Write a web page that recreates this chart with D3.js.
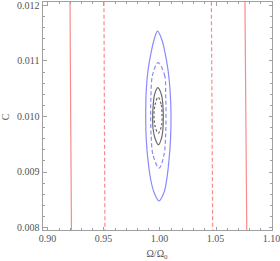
<!DOCTYPE html>
<html><head><meta charset="utf-8">
<script src="https://cdn.jsdelivr.net/npm/d3@7"></script>
<style>html,body{margin:0;padding:0;background:#fff;}svg{display:block;}</style>
</head><body>
<script>
// ---- data ----
const xTicks = [0.90, 0.95, 1.00, 1.05, 1.10];
const xTickLabels = ["0.90", "0.95", "1.00", "1.05", "1.10"];
const yTicks = [0.008, 0.009, 0.010, 0.011, 0.012];
const yTickLabels = ["0.008", "0.009", "0.010", "0.011", "0.012"];
const xLabel = "Ω/Ω";
const xLabelSub = "0";
const yLabel = "C";

// red bounds (nearly vertical lines), [omega, C]
const redSolidLeft = [[0.9201, 0.01206], [0.9207, 0.0100], [0.9214, 0.00794]];
const redSolidRight = [[1.0763, 0.01206], [1.0771, 0.0100], [1.0779, 0.00794]];
const redDashLeft = [[0.9504, 0.01206], [0.9508, 0.0100], [0.9513, 0.00794]];
const redDashRight = [[1.0463, 0.01206], [1.0469, 0.0100], [1.0475, 0.00794]];

// closed contours, [omega, C]
const blueOuter = [[0.9982, 0.01153], [1.0022, 0.01137], [1.0049, 0.01114], [1.0076, 0.01083], [1.0094, 0.01047],
  [1.0103, 0.0100], [1.0098, 0.00957], [1.0085, 0.00921], [1.0064, 0.00885], [1.0040, 0.00862], [0.9996, 0.00847],
  [0.9952, 0.00862], [0.9922, 0.00885], [0.9897, 0.00921], [0.9882, 0.00957], [0.9877, 0.0100], [0.9882, 0.01047],
  [0.9898, 0.01083], [0.9925, 0.01114], [0.9951, 0.01137]];
const blueInner = [[0.9987, 0.01096], [1.0045, 0.01074], [1.0055, 0.01038], [1.0058, 0.0100], [1.0054, 0.00962],
  [1.0040, 0.00930], [0.9996, 0.00906], [0.9942, 0.00930], [0.9926, 0.00962], [0.9921, 0.0100], [0.9924, 0.01038],
  [0.9938, 0.01074]];
const grayOuter = [[0.9985, 0.01051], [1.0018, 0.01038], [1.0030, 0.01020], [1.0034, 0.0100], [1.0031, 0.00978],
  [1.0018, 0.00960], [0.9991, 0.00948], [0.9960, 0.00960], [0.9942, 0.00978], [0.9939, 0.0100], [0.9944, 0.01020],
  [0.9955, 0.01038]];
const grayInner = [[0.9988, 0.01034], [1.0016, 0.01020], [1.0022, 0.0100], [1.0018, 0.00982], [0.9989, 0.00969],
  [0.9960, 0.00982], [0.9951, 0.0100], [0.9960, 0.01020]];

// ---- layout ----
const W = 280, H = 261;
const L = 42.5, R = 272.5, T = 1.5, B = 230.5;
const x = d3.scaleLinear().domain([0.89554, 1.10089]).range([L, R]);
const y = d3.scaleLinear().domain([0.007937, 0.012063]).range([B, T]);

const svg = d3.select("body").append("svg").attr("width", W).attr("height", H);
const frameCol = "#a0a0a0";
const textCol = "#555";
const font = "'Liberation Serif', 'DejaVu Serif', serif";

const defs = svg.append("defs");
defs.append("clipPath").attr("id", "clip").append("rect")
  .attr("x", L).attr("y", T).attr("width", R - L).attr("height", B - T);

const plot = svg.append("g").attr("clip-path", "url(#clip)");
const line = d3.line().x(d => x(d[0])).y(d => y(d[1]));
const closed = d3.line().x(d => x(d[0])).y(d => y(d[1])).curve(d3.curveCatmullRomClosed.alpha(0.5));

const red = "#f88a8a";
[[redSolidLeft, null], [redSolidRight, null], [redDashLeft, "4,2.5"], [redDashRight, "4,2.5"]].forEach(([d, dash]) => {
  plot.append("path").attr("d", line(d)).attr("fill", "none").attr("stroke", red)
    .attr("stroke-width", 1.2).attr("stroke-dasharray", dash);
});

const blue = "#8a8aff";
const gray = "#6a6a6a";
[[blueOuter, blue, null], [blueInner, blue, "4,2.5"], [grayOuter, gray, null], [grayInner, gray, "2.5,2"]]
  .forEach(([d, c, dash]) => {
    plot.append("path").attr("d", closed(d)).attr("fill", "none").attr("stroke", c)
      .attr("stroke-width", 1.2).attr("stroke-dasharray", dash);
  });

// ---- frame and ticks ----
const axG = svg.append("g").attr("stroke", frameCol).attr("fill", "none").attr("shape-rendering", "crispEdges");
axG.append("rect").attr("x", L).attr("y", T).attr("width", R - L).attr("height", B - T).attr("stroke-width", 1);

const xMinor = d3.range(0, 21).map(i => 0.90 + i * 0.01);
const yMinor = d3.range(0, 21).map(i => 0.008 + i * 0.0002);
const isMajorX = v => xTicks.some(t => Math.abs(t - v) < 1e-6);
const isMajorY = v => yTicks.some(t => Math.abs(t - v) < 1e-9);

xMinor.forEach(v => {
  const len = isMajorX(v) ? 4 : 2.5;
  const px = Math.round(x(v)) + 0.5;
  axG.append("line").attr("x1", px).attr("x2", px).attr("y1", B).attr("y2", B - len);
  axG.append("line").attr("x1", px).attr("x2", px).attr("y1", T).attr("y2", T + len);
});
yMinor.forEach(v => {
  const len = isMajorY(v) ? 4 : 2.5;
  const py = Math.round(y(v)) + 0.5;
  axG.append("line").attr("y1", py).attr("y2", py).attr("x1", L).attr("x2", L + len);
  axG.append("line").attr("y1", py).attr("y2", py).attr("x1", R).attr("x2", R - len);
});

// tick labels
xTicks.forEach((v, i) => {
  svg.append("text").attr("x", x(v)).attr("y", 242).attr("text-anchor", "middle")
    .attr("font-family", font).attr("font-size", 10).attr("fill", textCol).text(xTickLabels[i]);
});
yTicks.forEach((v, i) => {
  svg.append("text").attr("x", 39.5).attr("y", y(v) + 3.5).attr("text-anchor", "end")
    .attr("font-family", font).attr("font-size", 10).attr("fill", textCol).text(yTickLabels[i]);
});

// axis labels
const xl = svg.append("text").attr("x", 157).attr("y", 257).attr("text-anchor", "middle")
  .attr("font-family", font).attr("font-size", 10).attr("fill", textCol);
xl.append("tspan").text(xLabel);
xl.append("tspan").attr("font-size", 7).attr("dy", 2).text(xLabelSub);

svg.append("text").attr("transform", "translate(9,117) rotate(-90)").attr("text-anchor", "middle")
  .attr("font-family", font).attr("font-size", 10).attr("fill", textCol).text(yLabel);
</script>
</body></html>
